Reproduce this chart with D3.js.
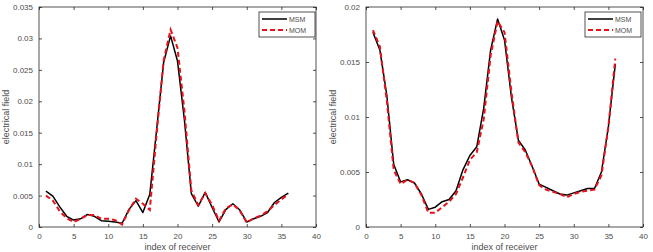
<!DOCTYPE html>
<html><head><meta charset="utf-8">
<script src="https://cdn.jsdelivr.net/npm/d3@7"></script>
<style>body{margin:0;background:#fff}svg{display:block}text{font-family:"Liberation Sans",Arial,sans-serif}</style>
</head><body><svg id="c" width="653" height="252"></svg>
<script>
const idx = d3.range(1, 37);
const leftMSM = [0.0057,0.0049,0.0032,0.0017,0.0011,0.0013,0.0020,0.0017,0.0010,0.0009,0.0008,0.0006,0.0028,0.0042,0.0023,0.0052,0.0156,0.0262,0.0304,0.0264,0.0170,0.0053,0.0033,0.0055,0.0031,0.0008,0.0028,0.0037,0.0027,0.0008,0.0013,0.0017,0.0023,0.0039,0.0047,0.0054];
const leftMOM = [0.0050,0.0042,0.0025,0.0014,0.0008,0.0013,0.0019,0.0019,0.0013,0.0013,0.0011,0.0004,0.0027,0.0045,0.0037,0.0027,0.0150,0.0265,0.0314,0.0285,0.0185,0.0058,0.0035,0.0054,0.0035,0.0010,0.0030,0.0036,0.0026,0.0007,0.0014,0.0018,0.0025,0.0035,0.0044,0.0052];
const rightMSM = [0.0177,0.0161,0.0120,0.0057,0.0041,0.0043,0.0040,0.0030,0.0016,0.0018,0.0023,0.0025,0.0033,0.0052,0.0065,0.0073,0.0108,0.0161,0.0189,0.0170,0.0118,0.0079,0.0070,0.0055,0.0039,0.0036,0.0033,0.0030,0.0029,0.0031,0.0033,0.0035,0.0035,0.0050,0.0091,0.0148];
const rightMOM = [0.0179,0.0164,0.0115,0.0052,0.0039,0.0043,0.0040,0.0029,0.0013,0.0013,0.0018,0.0023,0.0030,0.0045,0.0061,0.0068,0.0098,0.0156,0.0187,0.0177,0.0123,0.0077,0.0068,0.0055,0.0038,0.0034,0.0032,0.0030,0.0027,0.0030,0.0032,0.0033,0.0034,0.0047,0.0091,0.0153];
const xTicks = [0,5,10,15,20,25,30,35,40];
const leftYTicks = [0,0.005,0.01,0.015,0.02,0.025,0.03,0.035];
const rightYTicks = [0,0.005,0.01,0.015,0.02];
const seriesNames = ["MSM","MOM"];
const xLabel = "index of receiver", yLabel = "electrical field";

const svg = d3.select("#c");
const axisCol = "#262626", tickCol = "#4d4d4d";

function panel(x0, x1, y0, y1, yMax, yTicks, msm, mom, labelX, legX) {
  const g = svg.append("g");
  const x = d3.scaleLinear().domain([0,40]).range([x0,x1]);
  const y = d3.scaleLinear().domain([0,yMax]).range([y1,y0]);
  // box
  g.append("rect").attr("x",x0).attr("y",y0).attr("width",x1-x0).attr("height",y1-y0)
    .attr("fill","none").attr("stroke",axisCol).attr("stroke-width",0.8);
  const fmt = d => d===0 ? "0" : String(+d.toFixed(3));
  const ax = g.append("g").attr("transform",`translate(0,${y1})`)
    .call(d3.axisBottom(x).tickValues(xTicks).tickSize(-3).tickPadding(6).tickFormat(d3.format("d")));
  const ax2 = g.append("g").attr("transform",`translate(0,${y0})`)
    .call(d3.axisTop(x).tickValues(xTicks).tickSize(-3).tickFormat(""));
  const ay = g.append("g").attr("transform",`translate(${x0},0)`)
    .call(d3.axisLeft(y).tickValues(yTicks).tickSize(-3).tickPadding(6).tickFormat(fmt));
  const ay2 = g.append("g").attr("transform",`translate(${x1},0)`)
    .call(d3.axisRight(y).tickValues(yTicks).tickSize(-3).tickFormat(""));
  [ax,ax2,ay,ay2].forEach(a=>{
    a.select(".domain").remove();
    a.selectAll("line").attr("stroke",axisCol).attr("stroke-width",0.8);
    a.selectAll("text").attr("fill",tickCol).style("font-size","8px").style("font-family",'"Liberation Sans",Arial,sans-serif');
  });
  const line = d3.line().x((d,i)=>x(idx[i])).y(d=>y(d));
  g.append("path").datum(msm).attr("d",line).attr("fill","none").attr("stroke","#000").attr("stroke-width",1.5).attr("stroke-linejoin","round");
  g.append("path").datum(mom).attr("d",line).attr("fill","none").attr("stroke","#e8121b").attr("stroke-width",2).attr("stroke-dasharray","5,3");
  // labels
  g.append("text").attr("x",(x0+x1)/2).attr("y",250).attr("text-anchor","middle")
    .attr("fill",tickCol).style("font-size","9px").text(xLabel);
  g.append("text").attr("transform",`translate(${labelX},${(y0+y1)/2}) rotate(-90)`).attr("text-anchor","middle")
    .attr("fill",tickCol).style("font-size","9px").text(yLabel);
  // legend
  const lg = g.append("g").attr("transform",`translate(${legX},12)`);
  lg.append("rect").attr("width",56).attr("height",25).attr("fill","#fff").attr("stroke",axisCol).attr("stroke-width",0.8);
  lg.append("line").attr("x1",3).attr("x2",28).attr("y1",7).attr("y2",7).attr("stroke","#000").attr("stroke-width",1.5);
  lg.append("line").attr("x1",3).attr("x2",28).attr("y1",18).attr("y2",18).attr("stroke","#e8121b").attr("stroke-width",2).attr("stroke-dasharray","5,3");
  seriesNames.forEach((n,i)=>{
    lg.append("text").attr("x",30).attr("y",9.5+11*i).attr("fill",tickCol).style("font-size","7px").text(n);
  });
}
panel(39, 316, 7, 227, 0.035, leftYTicks, leftMSM, leftMOM, 9, 259);
panel(366, 643, 7, 227, 0.02, rightYTicks, rightMSM, rightMOM, 336, 585);
</script></body></html>
